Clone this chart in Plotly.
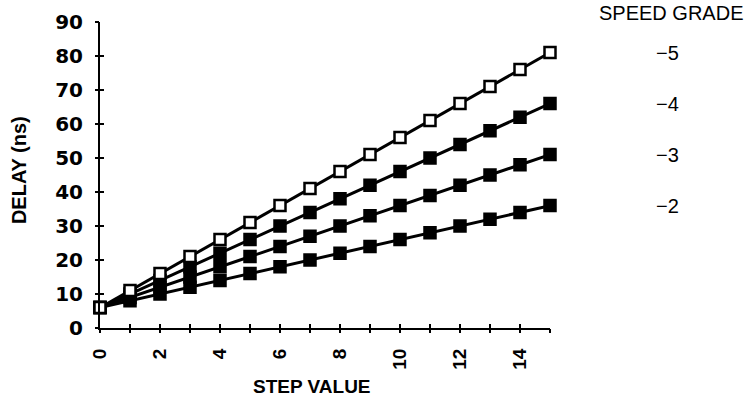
import plotly.graph_objects as go

steps = list(range(16))
grade_labels = ["−2", "−3", "−4", "−5"]
delay_m2 = [6, 8, 10, 12, 14, 16, 18, 20, 22, 24, 26, 28, 30, 32, 34, 36]
delay_m3 = [6, 9, 12, 15, 18, 21, 24, 27, 30, 33, 36, 39, 42, 45, 48, 51]
delay_m4 = [6, 10, 14, 18, 22, 26, 30, 34, 38, 42, 46, 50, 54, 58, 62, 66]
delay_m5 = [6, 11, 16, 21, 26, 31, 36, 41, 46, 51, 56, 61, 66, 71, 76, 81]
series = [delay_m2, delay_m3, delay_m4, delay_m5]
fills = ["black", "black", "black", "white"]

x_tickvals = list(range(16))
x_ticktext = [str(v) if v % 2 == 0 else "" for v in x_tickvals]
y_tickvals = list(range(0, 91, 10))

fig = go.Figure()
for lab, vals, fc in zip(grade_labels, series, fills):
    fig.add_trace(go.Scatter(
        x=steps, y=vals, mode="lines+markers", name=lab,
        line=dict(color="black", width=3),
        marker=dict(symbol="square", size=11, color=fc,
                    line=dict(color="black", width=2.5)),
        showlegend=False, cliponaxis=False,
    ))

lab_font = dict(family="Liberation Sans, Arial", size=20, color="black")
# legend-like labels aligned with the line ends
for lab, vals in zip(grade_labels, series):
    fig.add_annotation(x=1.262, xref="paper", y=vals[-1], yref="y",
                       text=lab, showarrow=False, font=lab_font,
                       xanchor="center", yanchor="middle")
fig.add_annotation(x=1.0, xref="paper", y=1.03, yref="paper", xanchor="right",
                   text="SPEED GRADE", showarrow=False, font=lab_font,
                   yanchor="middle", xshift=195)
title_font = dict(family="Liberation Sans, Arial", size=19, color="black", weight="bold")
fig.add_annotation(x=0.471, xref="paper", y=-0.19, yref="paper", text="STEP VALUE",
                   showarrow=False, font=title_font, xanchor="center", yanchor="middle")
fig.add_annotation(x=-0.18, xref="paper", y=0.516, yref="paper", text="DELAY (ns)",
                   showarrow=False, font=dict(title_font, size=20), textangle=-90,
                   xanchor="center", yanchor="middle")

tickfont = dict(family="DejaVu Sans", size=20, color="black", weight="bold")
xtickfont = dict(family="Liberation Sans", size=19, color="black", weight="bold")
common = dict(showgrid=False, zeroline=False, automargin=False)
fig.update_layout(
    width=746, height=399,
    margin=dict(l=100, r=196, t=22, b=71),
    plot_bgcolor="white", paper_bgcolor="white",
    # main axes: labels only (transparent long ticks push labels away)
    xaxis=dict(range=[0, 15], tickvals=x_tickvals, ticktext=x_ticktext,
               tickangle=-90, ticks="outside", ticklen=11, tickwidth=2,
               tickcolor="rgba(0,0,0,0)", showline=True, linecolor="black",
               linewidth=2, tickfont=xtickfont, **common),
    yaxis=dict(range=[0, 90], tickvals=y_tickvals, ticks="outside", ticklen=11,
               tickwidth=2, tickcolor="rgba(0,0,0,0)", showline=True,
               linecolor="black", linewidth=2, tickfont=tickfont, **common),
    # overlay axes draw the cross-shaped ticks
    xaxis2=dict(range=[0, 15], tickvals=x_tickvals, ticks="inside", ticklen=4,
                tickwidth=2, tickcolor="black", showticklabels=False,
                overlaying="x", **common),
    yaxis2=dict(range=[0, 90], tickvals=y_tickvals, ticks="inside", ticklen=4,
                tickwidth=2, tickcolor="black", showticklabels=False,
                overlaying="y", **common),
    xaxis3=dict(range=[0, 15], tickvals=x_tickvals, ticks="outside", ticklen=4,
                tickwidth=2, tickcolor="black", showticklabels=False,
                overlaying="x", **common),
    yaxis3=dict(range=[0, 90], tickvals=y_tickvals, ticks="outside", ticklen=4,
                tickwidth=2, tickcolor="black", showticklabels=False,
                overlaying="y", **common),
)
fig.add_trace(go.Scatter(x=[None], y=[None], xaxis="x2", yaxis="y2",
                         showlegend=False, hoverinfo="skip"))
fig.add_trace(go.Scatter(x=[None], y=[None], xaxis="x3", yaxis="y3",
                         showlegend=False, hoverinfo="skip"))
fig.write_html("out.html", config={"displayModeBar": False},
               post_script="document.body.style.margin='0';document.body.style.overflow='hidden';")
